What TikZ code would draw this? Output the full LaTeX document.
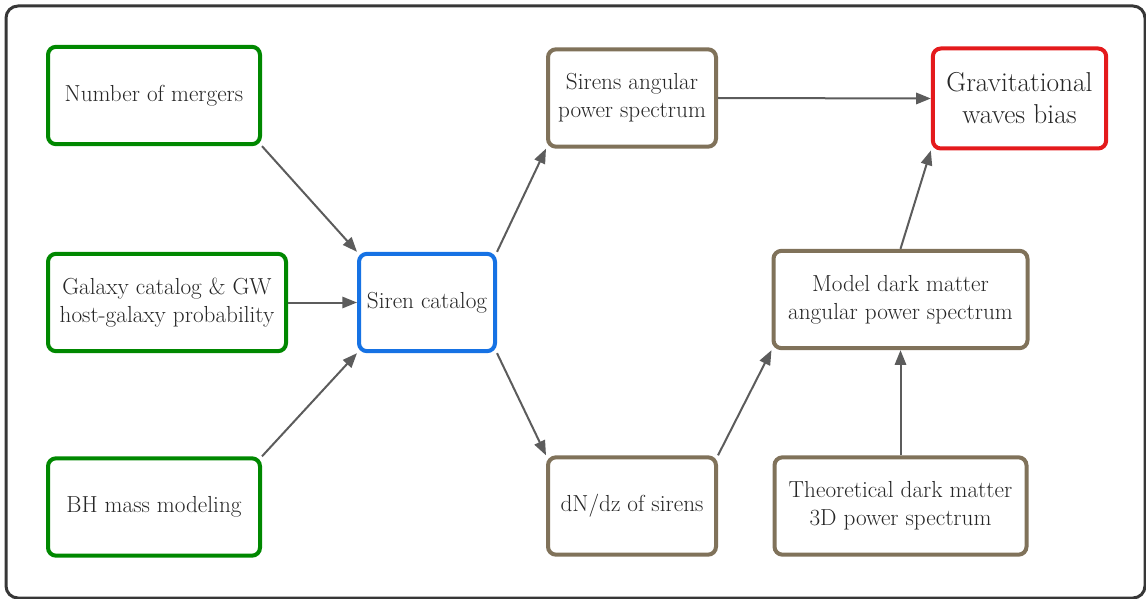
\documentclass[tikz,border=0pt]{standalone}
\usetikzlibrary{arrows.meta}

\definecolor{inputgreen}{RGB}{0,136,0}
\definecolor{sirenblue}{RGB}{22,114,228}
\definecolor{biasred}{RGB}{228,26,28}
\definecolor{stepbrown}{RGB}{128,114,90}
\definecolor{arrowgray}{RGB}{92,92,92}
\definecolor{textgray}{RGB}{38,38,38}
\definecolor{framegray}{RGB}{55,55,55}

\tikzset{every picture/.style={line width=0.75pt}}
\tikzset{
  box/.style={draw, rounded corners=6pt, line width=3pt, fill=white, align=center,
    minimum height=73pt, inner sep=2pt, text=textgray,
    font=\fontsize{17.4}{21}\selectfont},
  inbox/.style={box, draw=inputgreen},
  catbox/.style={box, draw=sirenblue},
  stepbox/.style={box, draw=stepbrown},
  goalbox/.style={box, draw=biasred, font=\fontsize{20.5}{24}\selectfont},
  flow/.style={draw=arrowgray, line width=1.5pt, -{Triangle[length=11pt,width=8.5pt]}}
}

\begin{document}
\begin{tikzpicture}[x=0.75pt,y=0.75pt,yscale=-1,xscale=1]
	\useasboundingbox (0,0) rectangle (1146,599);

	%Shape: Rounded Rect [frame]
	\draw [draw=framegray, line width=2.25pt, rounded corners=9pt] (6,6) rectangle (1145,598) ;

	% inputs
	\node [inbox, minimum width=159pt] (merg) at (154,95.5) {Number of mergers};
	\node [inbox, minimum width=178.5pt] (galaxy) at (167,302.5) {Galaxy catalog \& GW\\host-galaxy probability};
	\node [inbox, minimum width=159pt] (bhmass) at (154,507) {BH mass modeling};

	% catalog
	\node [catbox, minimum width=102pt] (siren) at (427,302.5) {Siren catalog};

	% spectra
	\node [stepbox, minimum width=126pt] (angular) at (632,98) {Sirens angular\\power spectrum};
	\node [stepbox, minimum width=126pt] (dndz) at (632,506) {dN/dz of sirens};
	\node [stepbox, minimum width=190.5pt] (model) at (900.5,299.5) {Model dark matter\\angular power spectrum};
	\node [stepbox, minimum width=189pt] (theory) at (900.5,506) {Theoretical dark matter\\3D power spectrum};

	% result
	\node [goalbox, minimum width=130pt, minimum height=75pt] (bias) at (1019.5,98.5) {Gravitational\\waves bias};

	%Straight Lines
	\draw [flow] (merg.south east) -- (siren.north west) ;
	\draw [flow] (galaxy.east) -- (siren.west) ;
	\draw [flow] (bhmass.north east) -- (siren.south west) ;
	\draw [flow] (siren.north east) -- (angular.south west) ;
	\draw [flow] (siren.south east) -- (dndz.north west) ;
	\draw [flow] (angular.east) -- (bias.west) ;
	\draw [flow] (dndz.north east) -- (model.south west) ;
	\draw [flow] (model.north) -- (bias.south west) ;
	\draw [flow] (theory.north) -- (model.south) ;

\end{tikzpicture}
\end{document}
